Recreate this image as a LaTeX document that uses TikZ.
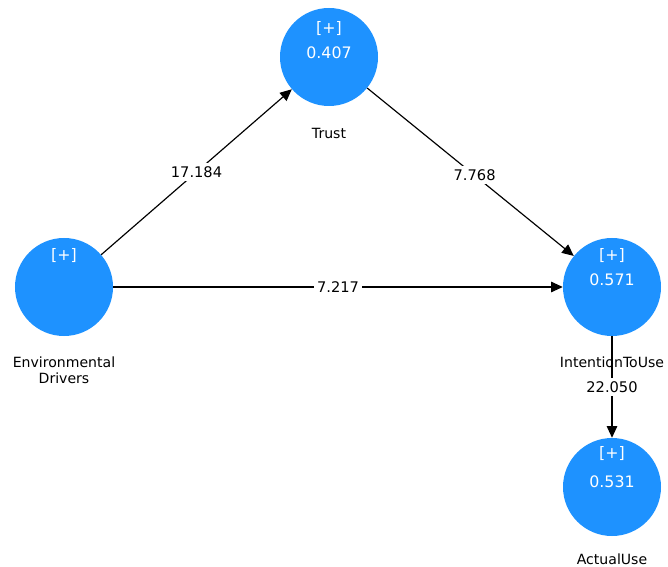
\documentclass[tikz,border=0pt]{standalone}
\usepackage{fontspec}
\setmainfont{DejaVu Sans}
\usetikzlibrary{arrows.meta,positioning}
\definecolor{lvblue}{RGB}{30,146,255}
\tikzset{
  lv/.style={circle, fill=lvblue, minimum size=2.94cm, inner sep=0pt},
  lvtext/.style={text=white, font=\fontsize{13.5}{15}\selectfont, align=center},
  lvname/.style={font=\fontsize{12}{14}\selectfont, align=center, inner sep=1pt},
  path/.style={line width=1pt, -{Triangle[length=10pt,width=9pt]}},
  coef/.style={fill=white, font=\fontsize{12.5}{14}\selectfont, inner sep=3pt}
}
\begin{document}
\begin{tikzpicture}[x=0.03cm, y=-0.03cm]
\useasboundingbox (0,0) rectangle (668,567);

\node[lv] (trust) at (329,57) {};
\node[lv] (env) at (64,287) {};
\node[lv] (intent) at (612,287) {};
\node[lv] (actual) at (612,487) {};

\node[lvtext] (trustpm) at (329,29) {[+]};
\node[lvtext] (trustval) at (329,53) {0.407};
\node[lvtext] (envpm) at (64,256) {[+]};
\node[lvtext] (intentpm) at (612,256) {[+]};
\node[lvtext] (intentval) at (612,280) {0.571};
\node[lvtext] (actualpm) at (612,454) {[+]};
\node[lvtext] (actualval) at (612,482) {0.531};

\node[lvname] (trustlbl) at (329,133) {Trust};
\node[lvname] (envlbl) at (64,370) {Environmental\\Drivers};
\node[lvname] (intentlbl) at (612,362) {IntentionToUse};
\node[lvname] (actuallbl) at (612,559) {ActualUse};

\draw[path] (env) -- node[coef] {17.184} (trust);
\draw[path] (trust) -- node[coef, pos=0.52] {7.768} (intent);
\draw[path] (env) -- node[coef, pos=0.5] {7.217} (intent);
\draw[path] (intent) -- node[coef] {22.050} (actual);

\end{tikzpicture}
\end{document}
